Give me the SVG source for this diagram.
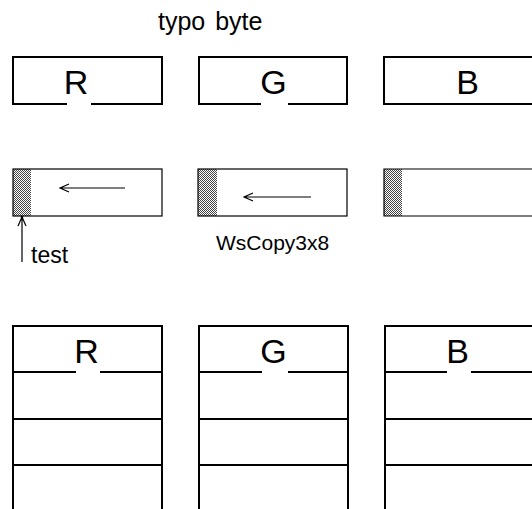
<svg xmlns="http://www.w3.org/2000/svg" width="532" height="509" viewBox="0 0 532 509">
<style>
.t{font-family:"Liberation Sans",Arial,sans-serif;fill:#000}
.big{font-size:34px;text-anchor:middle}
.ln{stroke:#000;stroke-width:2;fill:none}
.thin{stroke:#000;stroke-width:1.2;fill:none}
.ar{stroke:#000;stroke-width:1.2;fill:none}
</style>
<defs>
<pattern id="dots" x="0" y="0" width="2" height="2" patternUnits="userSpaceOnUse">
<rect width="2" height="2" fill="#fff" shape-rendering="crispEdges"/>
<rect x="0" y="0" width="1" height="1" fill="#444" shape-rendering="crispEdges"/>
<rect x="1" y="1" width="1" height="1" fill="#444" shape-rendering="crispEdges"/>
</pattern>
</defs>
<rect width="532" height="509" fill="#fff"/>
<text class="t" x="158" y="30" font-size="25" word-spacing="3">typo byte</text>

<g id="topR">
<path class="ln" d="M67 104H13V57H162V104H91"/>
<text class="t big" x="76" y="94">R</text>
</g>
<g id="topG">
<path class="ln" d="M261 104H199V57H347V104H288"/>
<text class="t big" x="273.5" y="94">G</text>
</g>
<g id="topB">
<path class="ln" d="M540 57H384V104H540"/>
<text class="t big" x="467.5" y="94">B</text>
</g>

<g id="midR">
<rect x="13" y="169" width="18" height="47" fill="url(#dots)" shape-rendering="crispEdges"/>
<rect class="thin" x="13" y="169" width="149" height="47"/>
</g>
<g id="midG">
<rect x="198" y="169" width="19" height="47" fill="url(#dots)" shape-rendering="crispEdges"/>
<rect class="thin" x="198" y="169" width="149" height="47"/>
</g>
<g id="midB">
<rect x="384" y="169" width="18" height="47" fill="url(#dots)" shape-rendering="crispEdges"/>
<path class="thin" d="M540 169H384V216H540"/>
</g>

<g id="connectors">
<path class="ar" d="M125 188H60M69 184L60 188L69 192"/>
<path class="ar" d="M311 197H244M253 193L244 197L253 201"/>
<path class="ar" d="M22 262V217M18 226L22 217L26 226"/>
<circle cx="22" cy="217" r="1.3" fill="#000"/>
</g>

<g id="testLabel"><text class="t" x="31" y="263" font-size="23">test</text></g>
<g id="wsLabel"><text class="t" x="216" y="250" font-size="21">WsCopy3x8</text></g>

<g id="botR">
<path class="ln" d="M13 512V326H162V512M13 372H76M100 372H162M13 419H162M13 465H162"/>
<text class="t big" x="86.5" y="363">R</text>
</g>
<g id="botG">
<path class="ln" d="M199 512V326H348V512M199 372H262M288 372H348M199 419H348M199 465H348"/>
<text class="t big" x="273.5" y="363">G</text>
</g>
<g id="botB">
<path class="ln" d="M385 512V326H540M385 372H447M471 372H540M385 419H540M385 465H540"/>
<text class="t big" x="457.5" y="363">B</text>
</g>
</svg>
